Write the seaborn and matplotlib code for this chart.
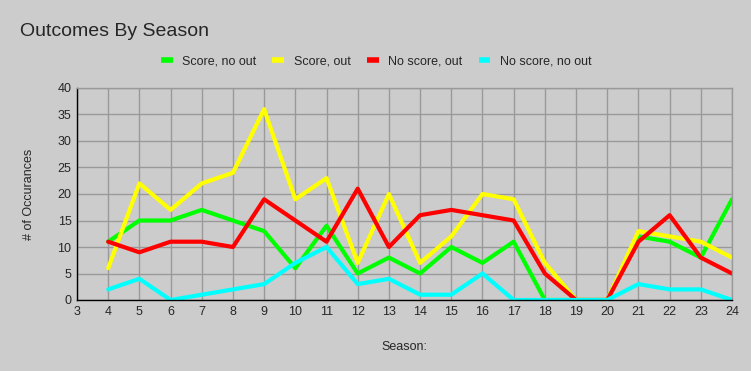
import seaborn as sns
import pandas as pd
import matplotlib.pyplot as plt

seasons = list(range(4, 25))
score_no_out = [11, 15, 15, 17, 15, 13, 6, 14, 5, 8, 5, 10, 7, 11, 0, 0, 0, 12, 11, 8, 19]
score_out = [6, 22, 17, 22, 24, 36, 19, 23, 7, 20, 7, 12, 20, 19, 7, 0, 0, 13, 12, 11, 8]
no_score_out = [11, 9, 11, 11, 10, 19, 15, 11, 21, 10, 16, 17, 16, 15, 5, 0, 0, 11, 16, 8, 5]
no_score_no_out = [2, 4, 0, 1, 2, 3, 7, 10, 3, 4, 1, 1, 5, 0, 0, 0, 0, 3, 2, 2, 0]

names = ['Score, no out', 'Score, out', 'No score, out', 'No score, no out']
colors = ['#00ff00', '#ffff00', '#ff0000', '#00ffff']

frames = []
for name, vals in zip(names, [score_no_out, score_out, no_score_out, no_score_no_out]):
    frames.append(pd.DataFrame({'Season': seasons, 'Count': vals, 'Outcome': name}))
df = pd.concat(frames)

sns.set_style('white')
plt.rcParams['font.family'] = ['Liberation Sans', 'DejaVu Sans']

bg = '#cccccc'
fig = plt.figure(figsize=(7.51, 3.71), dpi=100, facecolor=bg)
ax = fig.add_axes([77 / 751, 71 / 371, 655 / 751, 212 / 371])
ax.set_facecolor(bg)

sns.lineplot(data=df, x='Season', y='Count', hue='Outcome', hue_order=names,
             palette=colors, linewidth=3, ax=ax, legend=False)

ax.set_xlim(3, 24)
ax.set_ylim(0, 40)
ax.set_xticks(range(3, 25))
ax.set_yticks(range(0, 41, 5))
ax.grid(True, color='#999999', linewidth=1)
ax.set_axisbelow(True)
for side in ['top', 'right']:
    ax.spines[side].set_color('#999999')
    ax.spines[side].set_linewidth(1)
for side in ['left', 'bottom']:
    ax.spines[side].set_color('black')
    ax.spines[side].set_linewidth(1)
ax.tick_params(axis='both', length=0, labelsize=9, pad=4)
ax.set_xlabel('Season:', fontsize=9, labelpad=17)
ax.set_ylabel('# of Occurances', fontsize=9, labelpad=16)

handles = [plt.Line2D([], [], color=c, linewidth=4, solid_capstyle='butt') for c in colors]
fig.legend(handles, names, loc='center', bbox_to_anchor=(376 / 751, 1 - 61 / 371),
           ncol=4, frameon=False, fontsize=9, handlelength=0.95, columnspacing=1.3,
           handletextpad=0.75)

fig.text(20 / 751, 1 - 31 / 371, 'Outcomes By Season', fontsize=14, va='center', ha='left')

fig.savefig('out.png', dpi=100, facecolor=bg)
